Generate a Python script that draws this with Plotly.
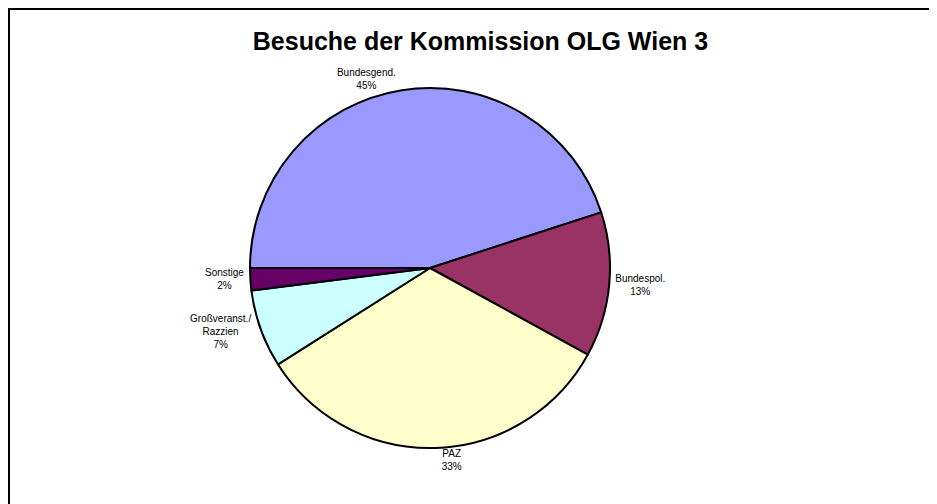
import plotly.graph_objects as go

labels = ["Bundesgend.", "Bundespol.", "PAZ", "Großveranst./<br>Razzien", "Sonstige"]
values = [45, 13, 33, 7, 2]
colors = ["#9999FF", "#993366", "#FFFFCC", "#CCFFFF", "#660066"]
title_text = "Besuche der Kommission OLG Wien 3"

W, H = 937, 504
# the page body adds an 8px offset; positions below are in figure pixels
cx, cy, r = 422, 260, 180

fig = go.Figure(go.Pie(
    labels=labels,
    values=values,
    sort=False,
    direction="clockwise",
    rotation=270,
    marker=dict(colors=colors, line=dict(color="#000000", width=2)),
    texttemplate="%{label}<br>%{percent:.0%}",
    textposition="outside",
    textfont=dict(family="Liberation Sans, Arial, sans-serif", size=10, color="#000000"),
    hoverinfo="label+percent",
    showlegend=False,
    automargin=False,
    domain=dict(x=[(cx - r) / W, (cx + r) / W], y=[(H - cy - r) / H, (H - cy + r) / H]),
))

fig.update_layout(
    width=W, height=H,
    margin=dict(l=0, r=0, t=0, b=0),
    paper_bgcolor="#FFFFFF",
    plot_bgcolor="#FFFFFF",
    title=dict(text="<b>" + title_text + "</b>", x=472.5 / W, xanchor="center",
               y=1 - 33 / H, yanchor="middle",
               font=dict(family="Liberation Sans, Arial, sans-serif", size=25, color="#000000")),
    shapes=[dict(type="rect", xref="paper", yref="paper",
                 x0=1 / W, x1=1.02, y0=-0.02, y1=1 - 1 / H,
                 line=dict(color="#000000", width=2), fillcolor="rgba(0,0,0,0)")],
)

fig.write_html("out.html")
